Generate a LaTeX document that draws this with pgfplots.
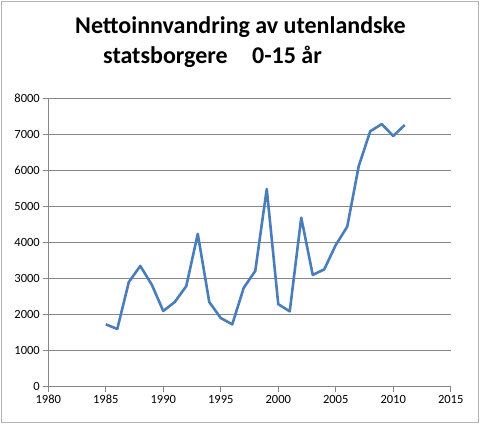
\documentclass[border=0pt]{standalone}
\usepackage{pgfplots}
\pgfplotsset{compat=1.18}
\usepackage{fontspec}
\setmainfont{Carlito}
\definecolor{excelblue}{HTML}{4A7EBB}
\definecolor{axgray}{HTML}{868686}
\begin{document}
\begin{tikzpicture}[x=1bp,y=1bp]
\useasboundingbox (0,0) rectangle (480,424);
\draw[color=gray!60, line width=1bp] (1.5,1.5) rectangle (478.5,422.5);
\node[anchor=base west, inner sep=0pt, font=\fontsize{24bp}{26bp}\selectfont\bfseries] at (75,390) {Nettoinnvandring av utenlandske};
\node[anchor=base west, inner sep=0pt, font=\fontsize{24bp}{26bp}\selectfont\bfseries] at (103,361) {statsborgere};
\node[anchor=base west, inner sep=0pt, font=\fontsize{24bp}{26bp}\selectfont\bfseries] at (252,361) {0-15 år};
\begin{axis}[
  at={(48.3bp,37.3bp)}, anchor=origin,
  scale only axis, width=402.4bp, height=288.4bp,
  xmin=1980, xmax=2015, ymin=0, ymax=8000,
  xtick distance=5, ytick distance=1000,
  axis lines=left, axis line style={-, color=axgray, line width=0.8bp},
  ymajorgrids, grid style={color=axgray, line width=0.8bp},
  tick align=outside, major tick length=5bp,
  tick style={color=axgray, line width=0.8bp},
  /pgf/number format/.cd, 1000 sep={}, assume math mode=true,
  /pgfplots/.cd,
  ticklabel style={font=\fontsize{12.5bp}{14bp}\selectfont},
  clip=false,
]
\addplot[color=excelblue, line width=2.6bp, line join=round, mark=none] coordinates {
(1985,1730) (1986,1600) (1987,2900) (1988,3350) (1989,2830) (1990,2100)
(1991,2350) (1992,2790) (1993,4240) (1994,2350) (1995,1905) (1996,1730)
(1997,2745) (1998,3210) (1999,5485) (2000,2290) (2001,2090) (2002,4690)
(2003,3100) (2004,3255) (2005,3930) (2006,4440) (2007,6120) (2008,7085)
(2009,7285) (2010,6955) (2011,7260)
};
\end{axis}
\end{tikzpicture}
\end{document}
